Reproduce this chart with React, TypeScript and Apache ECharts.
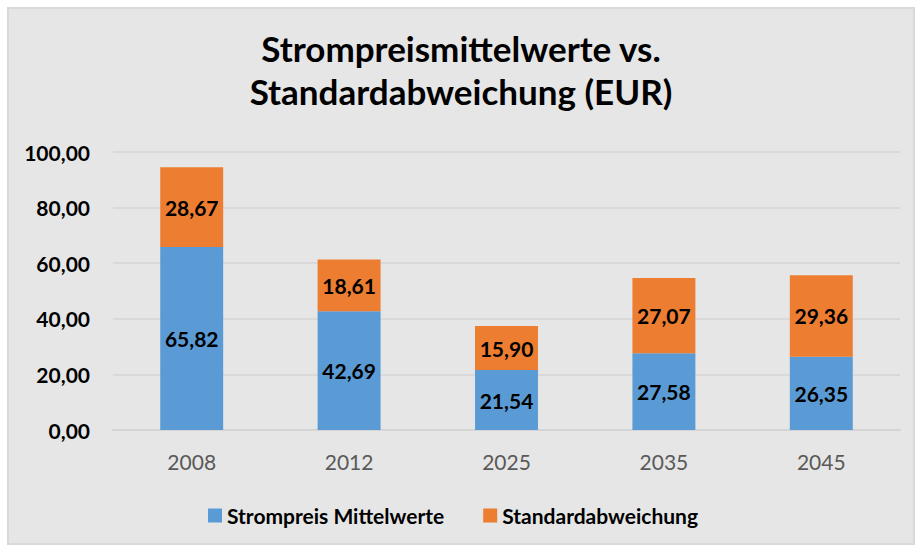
import React, { useEffect, useRef } from "react";
import * as echarts from "echarts";

const categories = ["2008", "2012", "2025", "2035", "2045"];
const meanValues = [65.82, 42.69, 21.54, 27.58, 26.35];
const stdValues = [28.67, 18.61, 15.9, 27.07, 29.36];
const seriesNames = ["Strompreis Mittelwerte", "Standardabweichung"];
const titleLines = ["Strompreismittelwerte vs.", "Standardabweichung (EUR)"];

const fmt = (v: number) => v.toFixed(2).replace(".", ",");
const FONT = "Lato";

export default function App() {
  const ref = useRef<HTMLDivElement>(null);
  useEffect(() => {
    if (!ref.current) return;
    const chart = echarts.init(ref.current, undefined, { renderer: "svg" });
    const labelStyle = {
      show: true,
      position: "inside" as const,
      formatter: (p: any) => fmt(p.value),
      color: "#000",
      fontWeight: "bold" as const,
      fontSize: 21,
      fontFamily: FONT,
    };
    chart.setOption({
      animation: false,
      backgroundColor: "#e6e6e6",
      title: {
        text: titleLines.join("\n"),
        left: "center",
        top: 12,
        textStyle: {
          fontFamily: FONT,
          fontWeight: "bold",
          fontSize: 35,
          lineHeight: 43,
          color: "#000",
        },
      },
      legend: {
        top: 491,
        left: 194,
        itemWidth: 14,
        itemHeight: 14,
        itemGap: 39,
        icon: "rect",
        textStyle: { fontFamily: FONT, fontWeight: "bold", fontSize: 21, color: "#000" },
        data: seriesNames,
      },
      grid: { left: 104, right: 13, top: 143, bottom: 113 },
      xAxis: {
        type: "category",
        data: categories,
        axisLine: { show: true, lineStyle: { color: "#d4d4d4", width: 2 } },
        axisTick: { show: false },
        axisLabel: { color: "#595959", fontSize: 21, fontFamily: FONT, margin: 21 },
      },
      yAxis: {
        type: "value",
        min: 0,
        max: 100,
        interval: 20,
        axisLine: { show: false },
        axisTick: { show: false },
        splitLine: { lineStyle: { color: "#d4d4d4", width: 1.5 } },
        axisLabel: {
          formatter: (v: number) => fmt(v),
          color: "#000",
          fontWeight: "bold",
          fontSize: 21,
          fontFamily: FONT,
          margin: 23,
        },
      },
      series: [
        {
          name: seriesNames[0],
          type: "bar",
          stack: "s",
          data: meanValues,
          barWidth: "40%",
          itemStyle: { color: "#5b9bd5" },
          label: labelStyle,
        },
        {
          name: seriesNames[1],
          type: "bar",
          stack: "s",
          data: stdValues,
          barWidth: "40%",
          itemStyle: { color: "#ed7d31" },
          label: labelStyle,
        },
      ],
    });
    return () => chart.dispose();
  }, []);
  return (
    <div
      style={{
        position: "absolute",
        left: 0,
        top: 0,
        width: 918,
        height: 548,
        background: "#fff",
      }}
    >
      <div
        ref={ref}
        style={{
          position: "absolute",
          left: 7,
          top: 7,
          width: 908,
          height: 538,
          border: "2px solid #d9d9d9",
          boxSizing: "border-box",
        }}
      />
    </div>
  );
}
